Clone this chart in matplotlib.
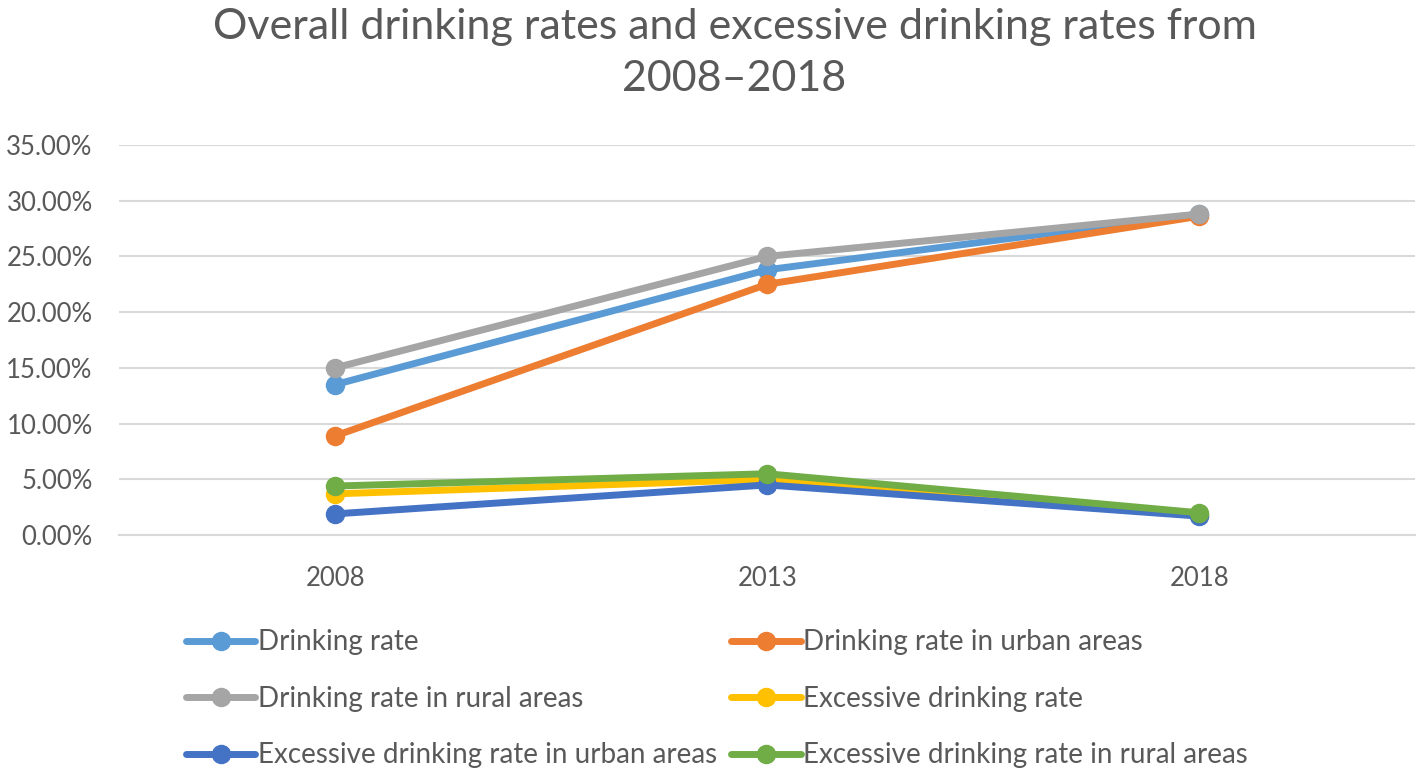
import matplotlib.pyplot as plt
from matplotlib.ticker import FuncFormatter

# data (percent)
years = ["2008", "2013", "2018"]
drinking = [13.5, 23.8, 28.8]
drinking_urban = [8.9, 22.5, 28.6]
drinking_rural = [15.0, 25.0, 28.8]
excessive = [3.7, 5.0, 1.8]
excessive_urban = [1.9, 4.5, 1.7]
excessive_rural = [4.4, 5.5, 2.0]

labels = [
    "Drinking rate", "Drinking rate in urban areas", "Drinking rate in rural areas",
    "Excessive drinking rate", "Excessive drinking rate in urban areas",
    "Excessive drinking rate in rural areas",
]
colors = ["#5B9BD5", "#ED7D31", "#A5A5A5", "#FFC000", "#4472C4", "#70AD47"]
series = [drinking, drinking_urban, drinking_rural, excessive, excessive_urban, excessive_rural]

plt.rcParams['font.family'] = ['Lato', 'DejaVu Sans']

fig = plt.figure(figsize=(14.18, 7.71), dpi=100)
ax = fig.add_axes([0.084, 0.306, 0.914, 0.506])

x = range(len(years))
handles = []
for vals, lab, col in zip(series, labels, colors):
    h, = ax.plot(x, vals, color=col, lw=5, marker="o", ms=13, label=lab,
                 solid_capstyle="round")
    handles.append(h)

ax.set_xlim(-0.5, 2.5)
ax.set_ylim(0, 35)
ax.set_yticks(range(0, 36, 5))
ax.yaxis.set_major_formatter(FuncFormatter(lambda v, p: f"{v:.2f}%"))
ax.set_xticks(list(x))
ax.set_xticklabels(years)
ax.tick_params(axis="both", length=0, labelsize=18.5, colors="#595959")
ax.tick_params(axis="y", pad=19)
ax.tick_params(axis="x", pad=22)
ax.grid(axis="y", color="#D9D9D9", lw=1.5)
ax.set_axisbelow(True)
for s in ["top", "right", "left"]:
    ax.spines[s].set_visible(False)
ax.spines["bottom"].set_color("#D9D9D9")
ax.spines["bottom"].set_linewidth(1.5)

fig.suptitle("Overall drinking rates and excessive drinking rates from\n2008\u20132018",
             x=0.518, y=0.99, fontsize=31, color="#595959", linespacing=1.45)

order = [0, 2, 4, 1, 3, 5]
fig.legend([handles[i] for i in order], [labels[i] for i in order],
           ncol=2, loc="lower left", bbox_to_anchor=(0.1135, -0.029),
           frameon=False, fontsize=20, labelcolor="#595959",
           handlelength=2.5, handletextpad=0.1, columnspacing=0.5,
           labelspacing=1.1)

fig.savefig("out.png", dpi=100)
